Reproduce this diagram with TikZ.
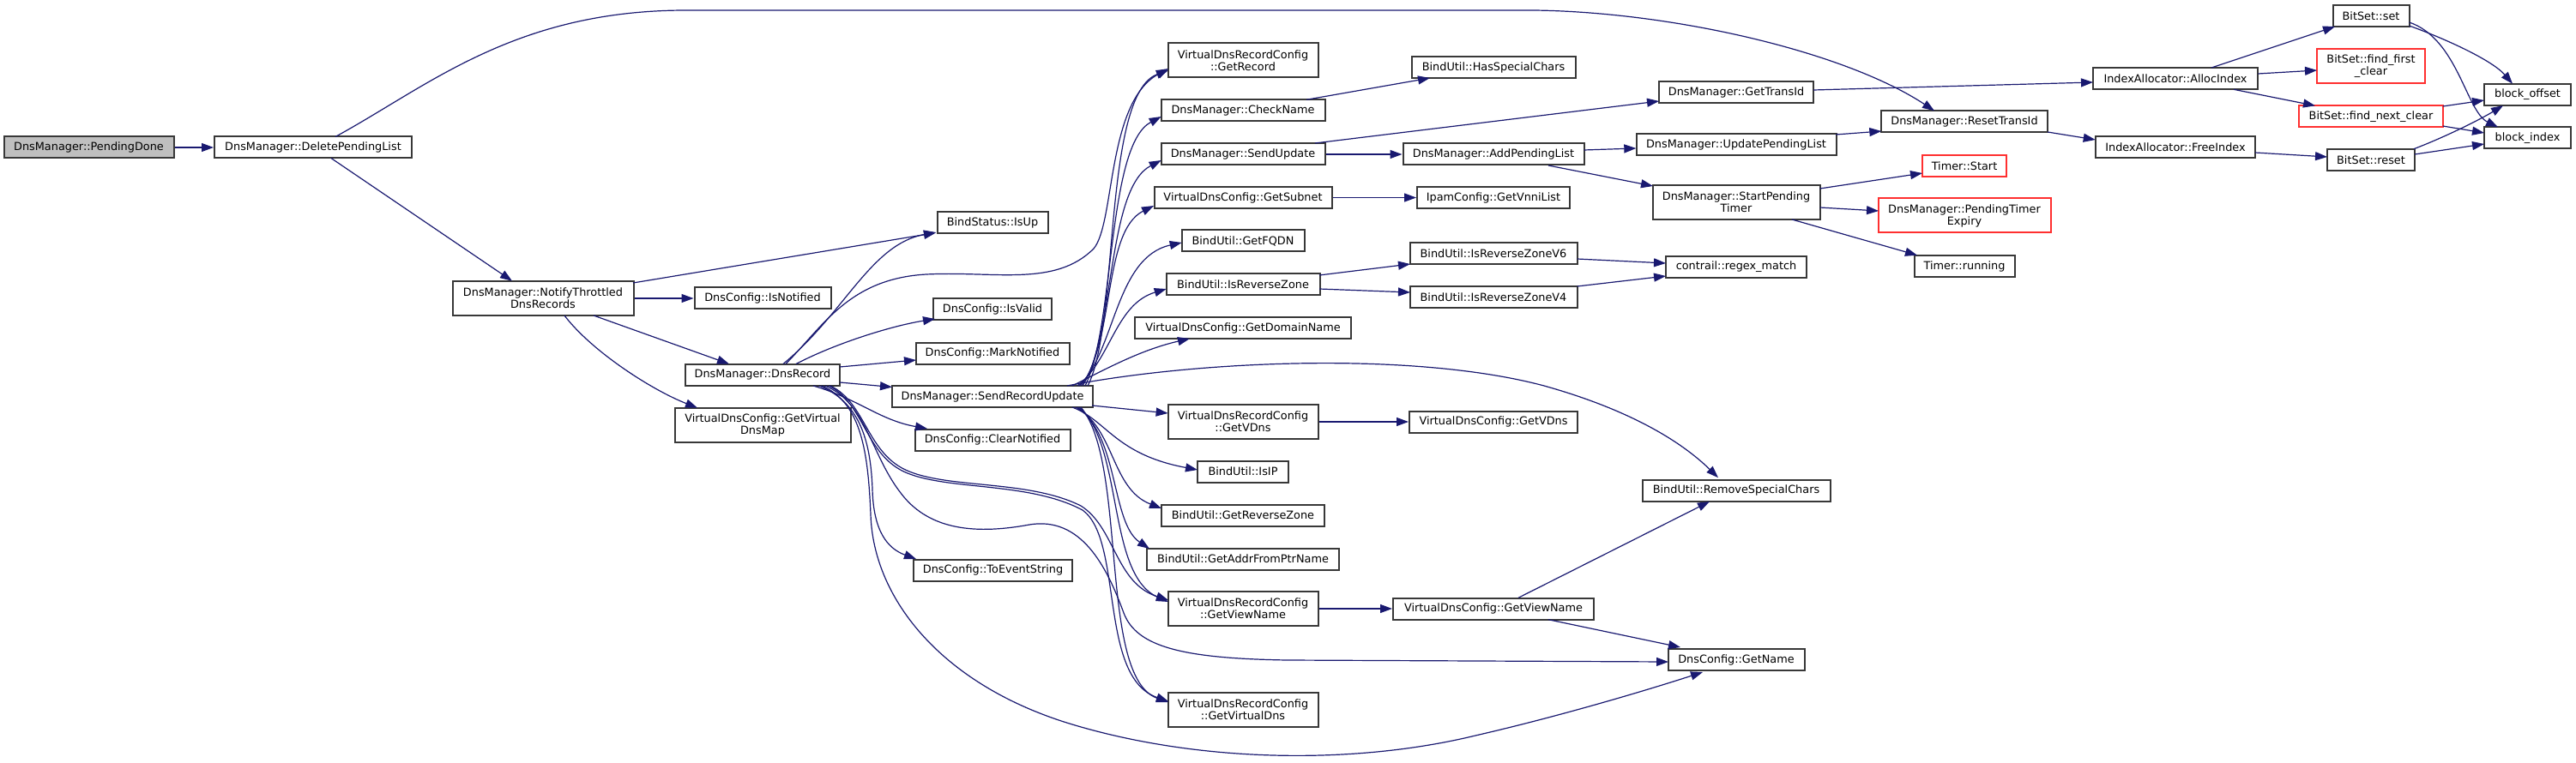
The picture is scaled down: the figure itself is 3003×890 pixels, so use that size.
\documentclass[tikz,border=0pt]{standalone}
\usepackage{fontspec}
\setmainfont{DejaVu Sans}
\usetikzlibrary{arrows.meta}
\definecolor{edgec}{HTML}{191970}
\definecolor{bordc}{HTML}{383838}
\definecolor{redc}{HTML}{FF3030}
\definecolor{rootc}{HTML}{BFBFBF}
\begin{document}
\begin{tikzpicture}[x=1pt,y=-1pt,
  box/.style={draw=bordc, line width=2pt, fill=white, inner sep=0pt, minimum height=25pt, align=center, font=\fontsize{12.85}{14}\selectfont},
  tall/.style={minimum height=40pt},
  redbox/.style={draw=redc},
  e/.style={draw=edgec, line width=1.2pt, -{Triangle[length=14pt,width=10pt]}}]
\useasboundingbox (0,0) rectangle (3003,890);
% nodes
\node[box,fill=rootc,minimum width=198pt] (pd) at (103.5,172) {DnsManager::PendingDone};
\node[box,minimum width=230pt] (dpl) at (365,172) {DnsManager::DeletePendingList};
\node[box,tall,minimum width=211pt] (ntf) at (633,348) {DnsManager::NotifyThrottled\\DnsRecords};
\node[box,minimum width=159pt] (isn) at (889,348) {DnsConfig::IsNotified};
\node[box,minimum width=180pt] (dnr) at (889,437) {DnsManager::DnsRecord};
\node[box,tall,minimum width=205pt] (gvdm) at (889,496) {VirtualDnsConfig::GetVirtual\\DnsMap};
\node[box,minimum width=129pt] (isup) at (1157,260) {BindStatus::IsUp};
\node[box,minimum width=138pt] (isv) at (1157,361) {DnsConfig::IsValid};
\node[box,minimum width=179pt] (mkn) at (1157,412) {DnsConfig::MarkNotified};
\node[box,minimum width=234pt] (sru) at (1157,462.5) {DnsManager::SendRecordUpdate};
\node[box,minimum width=181pt] (cln) at (1157,513) {DnsConfig::ClearNotified};
\node[box,minimum width=185pt] (tes) at (1157.5,665) {DnsConfig::ToEventString};
\node[box,tall,minimum width=175pt] (grec) at (1449,70.5) {VirtualDnsRecordConfig\\::GetRecord};
\node[box,minimum width=191pt] (chk) at (1449,129) {DnsManager::CheckName};
\node[box,minimum width=191pt] (sup) at (1449,180) {DnsManager::SendUpdate};
\node[box,minimum width=207pt] (gsub) at (1449,230.5) {VirtualDnsConfig::GetSubnet};
\node[box,minimum width=143pt] (fqdn) at (1449,281) {BindUtil::GetFQDN};
\node[box,minimum width=179pt] (irz) at (1449,332) {BindUtil::IsReverseZone};
\node[box,minimum width=252pt] (gdn) at (1449,382.5) {VirtualDnsConfig::GetDomainName};
\node[box,tall,minimum width=175pt] (gvd) at (1449,492) {VirtualDnsRecordConfig\\::GetVDns};
\node[box,minimum width=106pt] (isip) at (1449,550) {BindUtil::IsIP};
\node[box,minimum width=190pt] (grz) at (1449,601) {BindUtil::GetReverseZone};
\node[box,minimum width=224pt] (gafp) at (1449,652) {BindUtil::GetAddrFromPtrName};
\node[box,tall,minimum width=175pt] (gvn) at (1449,710) {VirtualDnsRecordConfig\\::GetViewName};
\node[box,tall,minimum width=175pt] (gvdns) at (1449,828) {VirtualDnsRecordConfig\\::GetVirtualDns};
\node[box,minimum width=191pt] (hsc) at (1741,78.5) {BindUtil::HasSpecialChars};
\node[box,minimum width=211pt] (apl) at (1741,180) {DnsManager::AddPendingList};
\node[box,minimum width=178pt] (vnni) at (1741,230.5) {IpamConfig::GetVnniList};
\node[box,minimum width=195pt] (rz6) at (1741,296) {BindUtil::IsReverseZoneV6};
\node[box,minimum width=195pt] (rz4) at (1741,346.5) {BindUtil::IsReverseZoneV4};
\node[box,minimum width=196pt] (vdcvd) at (1741,492) {VirtualDnsConfig::GetVDns};
\node[box,minimum width=234pt] (vdcvn) at (1741,710) {VirtualDnsConfig::GetViewName};
\node[box,minimum width=180pt] (gtid) at (2024,107.5) {DnsManager::GetTransId};
\node[box,minimum width=233pt] (upl) at (2024,169) {DnsManager::UpdatePendingList};
\node[box,tall,minimum width=195pt] (spt) at (2024,236) {DnsManager::StartPending\\Timer};
\node[box,minimum width=164pt] (rgx) at (2024,311.5) {contrail::regex\_match};
\node[box,minimum width=219pt] (rsc) at (2024,572) {BindUtil::RemoveSpecialChars};
\node[box,minimum width=159pt] (gnm) at (2024,769.5) {DnsConfig::GetName};
\node[box,minimum width=194pt] (rtid) at (2290,142) {DnsManager::ResetTransId};
\node[box,redbox,minimum width=98pt] (tst) at (2290,193.5) {Timer::Start};
\node[box,redbox,tall,minimum width=201pt] (pte) at (2290,251.5) {DnsManager::PendingTimer\\Expiry};
\node[box,minimum width=117pt] (trun) at (2290,310.5) {Timer::running};
\node[box,minimum width=192pt] (alloc) at (2536,91.5) {IndexAllocator::AllocIndex};
\node[box,minimum width=186pt] (free) at (2536,172) {IndexAllocator::FreeIndex};
\node[box,minimum width=89pt] (bset) at (2764,18.5) {BitSet::set};
\node[box,redbox,tall,minimum width=126pt] (ffc) at (2764,77) {BitSet::find\_first\\\_clear};
\node[box,redbox,minimum width=168pt] (fnc) at (2764,136) {BitSet::find\_next\_clear};
\node[box,minimum width=102pt] (brs) at (2764,186.5) {BitSet::reset};
\node[box,minimum width=101pt] (boff) at (2946.5,110.5) {block\_offset};
\node[box,minimum width=101pt] (bidx) at (2946.5,161) {block\_index};
% edges
\draw[e] (pd.east) -- (dpl.west);
\draw[e] ([shift={(26,-12.5)}]dpl.center) .. controls (500,100) and (600,12) .. (800,12) -- (1788,12) .. controls (1950,14) and (2150,60) .. ([shift={(-35,-12.8)}]rtid.center);
\draw[e] ([shift={(21,12.5)}]dpl.center) -- ([shift={(-36,-20.3)}]ntf.center);
\draw[e] ([shift={(105,-18)}]ntf.center) -- ([shift={(-66,11.5)}]isup.center);
\draw[e] (ntf.east) -- (isn.west);
\draw[e] ([shift={(59,20)}]ntf.center) -- ([shift={(-39,-12.5)}]dnr.center);
\draw[e] ([shift={(25,20)}]ntf.center) .. controls (690,410) and (760,455) .. ([shift={(-76,-20.3)}]gvdm.center);
% DnsRecord
\draw[e] ([shift={(24,-12.5)}]dnr.center) .. controls (985,365) and (1015,285) .. ([shift={(-66,11)}]isup.center);
\draw[e] ([shift={(27,-12.5)}]dnr.center) .. controls (960,380) and (990,325) .. (1080,320) .. controls (1160,316) and (1230,335) .. (1275,290) .. controls (1300,260) and (1290,120) .. ([shift={(-87,9.5)}]grec.center);
\draw[e] ([shift={(39,-12.5)}]dnr.center) .. controls (975,400) and (1040,380) .. ([shift={(-67,11)}]isv.center);
\draw[e] ([shift={(90,-9)}]dnr.center) -- ([shift={(-89,8)}]mkn.center);
\draw[e] ([shift={(90,9)}]dnr.center) -- ([shift={(-117,-11)}]sru.center);
\draw[e] ([shift={(59,13)}]dnr.center) .. controls (1000,465) and (1025,490) .. ([shift={(-76,-13)}]cln.center);
\draw[e] ([shift={(79,13)}]dnr.center) .. controls (1010,470) and (1010,530) .. (1060,550) .. controls (1110,570) and (1200,560) .. (1260,590) .. controls (1300,615) and (1300,680) .. ([shift={(-87,-10)}]gvn.center);
\draw[e] ([shift={(77,13)}]dnr.center) .. controls (1008,470) and (1008,532) .. (1058,552) .. controls (1108,572) and (1200,562) .. (1262,595) .. controls (1310,630) and (1280,790) .. ([shift={(-87,-10)}]gvdns.center);
\draw[e] ([shift={(73,13)}]dnr.center) .. controls (1010,470) and (1015,530) .. (1050,575) .. controls (1080,615) and (1130,625) .. (1200,612) .. controls (1260,602) and (1290,660) .. (1310,715) .. controls (1325,755) and (1380,768) .. (1500,770) -- ([shift={(-79,2.5)}]gnm.center);
\draw[e] ([shift={(66,13)}]dnr.center) .. controls (1005,470) and (1015,520) .. (1017,570) .. controls (1018,620) and (1035,640) .. ([shift={(-89.5,-13)}]tes.center);
\draw[e] ([shift={(69,13)}]dnr.center) .. controls (1005,470) and (1012,530) .. (1015,600) .. controls (1018,700) and (1100,800) .. (1250,845) .. controls (1400,890) and (1580,892) .. (1720,858) .. controls (1820,835) and (1920,805) .. ([shift={(-39,14.5)}]gnm.center);
% SendRecordUpdate
\draw[e] ([shift={(111,-12.5)}]sru.center) .. controls (1305,380) and (1285,110) .. ([shift={(-87,11.5)}]grec.center);
\draw[e] ([shift={(108,-12.5)}]sru.center) .. controls (1300,380) and (1290,170) .. ([shift={(-95.3,7)}]chk.center);
\draw[e] ([shift={(105,-12.5)}]sru.center) .. controls (1300,390) and (1290,220) .. ([shift={(-95.3,7)}]sup.center);
\draw[e] ([shift={(103,-12.5)}]sru.center) .. controls (1300,400) and (1285,270) .. ([shift={(-104,9.5)}]gsub.center);
\draw[e] ([shift={(101,-12.5)}]sru.center) .. controls (1300,410) and (1300,300) .. ([shift={(-71.3,2)}]fqdn.center);
\draw[e] ([shift={(99,-12.5)}]sru.center) .. controls (1295,420) and (1300,355) .. ([shift={(-89.3,5)}]irz.center);
\draw[e] ([shift={(93,-12.5)}]sru.center) .. controls (1290,430) and (1330,408) .. ([shift={(-62,12.5)}]gdn.center);
\draw[e] ([shift={(87,-12.5)}]sru.center) .. controls (1400,420) and (1650,410) .. (1800,450) .. controls (1900,478) and (1960,515) .. ([shift={(-21,-14.8)}]rsc.center);
\draw[e] ([shift={(116,10.5)}]sru.center) -- ([shift={(-87.4,-10)}]gvd.center);
\draw[e] ([shift={(93,12.5)}]sru.center) .. controls (1290,490) and (1300,530) .. ([shift={(-53,-2)}]isip.center);
\draw[e] ([shift={(97,12.5)}]sru.center) .. controls (1300,500) and (1295,570) .. ([shift={(-95,-8)}]grz.center);
\draw[e] ([shift={(99,12.5)}]sru.center) .. controls (1305,510) and (1295,610) .. ([shift={(-109,-12)}]gafp.center);
\draw[e] ([shift={(101,12.5)}]sru.center) .. controls (1310,520) and (1290,670) .. ([shift={(-87,-8)}]gvn.center);
\draw[e] ([shift={(103,12.5)}]sru.center) .. controls (1315,540) and (1280,790) .. ([shift={(-87,-9)}]gvdns.center);
% right part
\draw[e] ([shift={(74,-12.7)}]chk.center) -- ([shift={(-74,12.5)}]hsc.center);
\draw[e] ([shift={(84,-13)}]sup.center) -- ([shift={(-90,10.5)}]gtid.center);
\draw[e] (sup.east) -- (apl.west);
\draw[e] (gsub.east) -- (vnni.west);
\draw[e] ([shift={(89,-11)}]irz.center) -- ([shift={(-97,12)}]rz6.center);
\draw[e] ([shift={(89,5)}]irz.center) -- ([shift={(-97,-5.5)}]rz4.center);
\draw[e] ([shift={(97.5,6)}]rz6.center) -- ([shift={(-82,-4.5)}]rgx.center);
\draw[e] ([shift={(97.5,-12.5)}]rz4.center) -- ([shift={(-82,10.5)}]rgx.center);
\draw[e] ([shift={(105.5,-5)}]apl.center) -- ([shift={(-116.7,4)}]upl.center);
\draw[e] ([shift={(64,13)}]apl.center) -- ([shift={(-97,-19)}]spt.center);
\draw[e] ([shift={(116,-12)}]upl.center) -- ([shift={(-96.7,11)}]rtid.center);
\draw[e] ([shift={(90,-2.5)}]gtid.center) -- ([shift={(-96,4.5)}]alloc.center);
\draw[e] ([shift={(97.5,-16)}]spt.center) -- ([shift={(-49,8.5)}]tst.center);
\draw[e] ([shift={(97.5,6)}]spt.center) -- ([shift={(-100,-5.5)}]pte.center);
\draw[e] ([shift={(65,20)}]spt.center) -- ([shift={(-55,-12.8)}]trun.center);
\draw[e] ([shift={(97,12)}]rtid.center) -- ([shift={(-93.3,-9)}]free.center);
\draw[e] ([shift={(42,-12.5)}]alloc.center) -- ([shift={(-42,12.5)}]bset.center);
\draw[e] ([shift={(96.3,-5.5)}]alloc.center) -- ([shift={(-63,5)}]ffc.center);
\draw[e] ([shift={(68,12.8)}]alloc.center) -- ([shift={(-65,-12.7)}]fnc.center);
\draw[e] ([shift={(92.8,6)}]free.center) -- ([shift={(-51,-3.5)}]brs.center);
\draw[e] ([shift={(44.5,11.5)}]bset.center) .. controls (2850,45) and (2905,70) .. ([shift={(-17.5,-12.8)}]boff.center);
\draw[e] ([shift={(44.5,7.5)}]bset.center) .. controls (2865,45) and (2875,130) .. ([shift={(-34.5,-12.7)}]bidx.center);
\draw[e] ([shift={(83.7,-12)}]fnc.center) -- ([shift={(-50.5,6.5)}]boff.center);
\draw[e] ([shift={(83.7,11)}]fnc.center) -- ([shift={(-50.5,-6)}]bidx.center);
\draw[e] ([shift={(50,-12.8)}]brs.center) .. controls (2850,160) and (2890,140) .. ([shift={(-28.5,12.7)}]boff.center);
\draw[e] ([shift={(51,-6.5)}]brs.center) -- ([shift={(-50.5,7)}]bidx.center);
\draw[e] (gvd.east) -- (vdcvd.west);
\draw[e] (gvn.east) -- (vdcvn.west);
\draw[e] ([shift={(29,-12.7)}]vdcvn.center) -- ([shift={(-31,13)}]rsc.center);
\draw[e] ([shift={(64,12.7)}]vdcvn.center) -- ([shift={(-65,-14.5)}]gnm.center);
\end{tikzpicture}
\end{document}
